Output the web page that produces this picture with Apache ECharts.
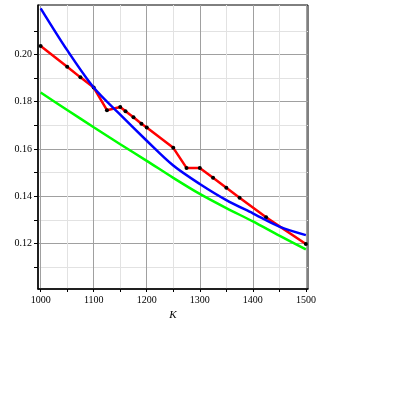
<!DOCTYPE html>
<html>
<head>
<meta charset="utf-8">
<script src="https://cdn.jsdelivr.net/npm/echarts@6/dist/echarts.min.js"></script>
<style>html,body{margin:0;padding:0;background:#fff}#c{width:395px;height:395px}</style>
</head>
<body>
<div id="c"></div>
<script>
// Data
var curveK = [1000, 1050, 1100, 1150, 1200, 1250, 1300, 1350, 1400, 1450, 1500];
var blueValues = [0.2195, 0.2018, 0.1860, 0.1745, 0.1635, 0.1530, 0.1452, 0.1384, 0.1328, 0.1272, 0.1236];
var greenValues = [0.1839, 0.1765, 0.1692, 0.1620, 0.1550, 0.1478, 0.1410, 0.1350, 0.1294, 0.1234, 0.1176];
var redK = [1000, 1050, 1075, 1100, 1125, 1150, 1160, 1175, 1190, 1200, 1250, 1275, 1300, 1325, 1350, 1375, 1425, 1500];
var redValues = [0.2036, 0.1948, 0.1903, 0.1860, 0.1764, 0.1778, 0.1760, 0.1734, 0.1707, 0.1691, 0.1605, 0.1520, 0.1520, 0.1478, 0.1436, 0.1394, 0.1311, 0.1198];
var xTickValues = [1000, 1050, 1100, 1150, 1200, 1250, 1300, 1350, 1400, 1450, 1500];
var xLabelValues = [1000, 1100, 1200, 1300, 1400, 1500];
var yTickValues = [0.11, 0.12, 0.13, 0.14, 0.15, 0.16, 0.17, 0.18, 0.19, 0.20, 0.21];
var yLabelValues = [0.12, 0.14, 0.16, 0.18, 0.20];

function pairs(xs, ys) { return xs.map(function (x, i) { return [x, ys[i]]; }); }

var chart = echarts.init(document.getElementById('c'), null, {renderer: 'canvas'});
var font = '"Liberation Serif", "Times New Roman", serif';
chart.setOption({
  animation: false,
  backgroundColor: '#fff',
  grid: {left: 38, top: 5, width: 270, height: 284, show: true, borderColor: '#000', borderWidth: 1, backgroundColor: 'transparent'},
  xAxis: {
    type: 'value', min: 995, max: 1504,
    name: 'K', nameLocation: 'middle', nameGap: 14,
    nameTextStyle: {fontFamily: font, fontStyle: 'italic', fontSize: 11, color: '#000'},
    axisLine: {show: true, lineStyle: {color: '#000', width: 1.5}},
    axisTick: {show: true, inside: false, length: 3, customValues: xTickValues, lineStyle: {color: '#000'}},
    axisLabel: {customValues: xLabelValues, margin: 6, fontFamily: font, fontSize: 10, color: '#000',
      formatter: function (v) { return String(Math.round(v)); }},
    splitLine: {show: true, lineStyle: {color: ['#a0a0a0', '#e2e2e2'], width: 1}}
  },
  yAxis: {
    type: 'value', min: 0.1008, max: 0.2209,
    axisLine: {show: true, lineStyle: {color: '#000', width: 1.5}},
    axisTick: {show: true, inside: false, length: 4, customValues: yTickValues, lineStyle: {color: '#000'}},
    axisLabel: {customValues: yLabelValues, margin: 6, fontFamily: font, fontSize: 10, color: '#000',
      formatter: function (v) { return v.toFixed(2); }},
    splitLine: {show: true, lineStyle: {color: ['#e2e2e2', '#a0a0a0'], width: 1}}
  },
  series: [
    {type: 'line', name: 'green', data: pairs(curveK, greenValues), smooth: 0.3,
      showSymbol: false, symbol: 'none', lineStyle: {color: '#00ff00', width: 2.5}, z: 2},
    {type: 'line', name: 'red', data: pairs(redK, redValues), smooth: false,
      symbol: 'circle', symbolSize: 4, showSymbol: true,
      itemStyle: {color: '#000'}, lineStyle: {color: '#ff0000', width: 2.5}, z: 3},
    {type: 'line', name: 'blue', data: pairs(curveK, blueValues), smooth: 0.3,
      showSymbol: false, symbol: 'none', lineStyle: {color: '#0000ff', width: 2.5}, z: 4}
  ]
});
</script>
</body>
</html>
